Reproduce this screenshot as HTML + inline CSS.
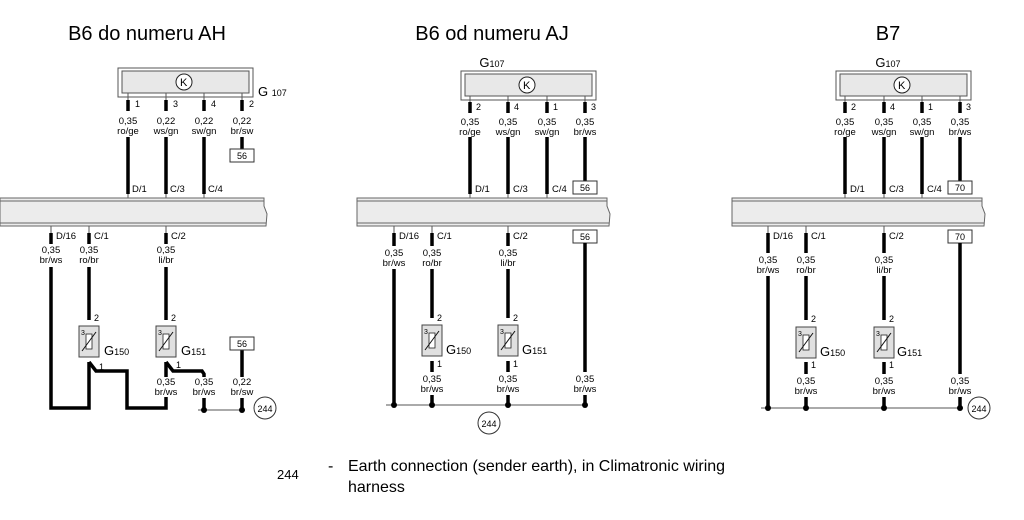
<!DOCTYPE html>
<html><head><meta charset="utf-8"><style>
html,body{margin:0;padding:0;background:#fff;width:1024px;height:520px;overflow:hidden}
svg{display:block;font-family:"Liberation Sans",Arial,sans-serif}
</style></head><body>
<svg width="1024" height="520" viewBox="0 0 1024 520">
<defs>
<g id="sensor">
<rect x="-10" y="0" width="20" height="31" fill="#e0e0e0" stroke="#444" stroke-width="1"/>
<rect x="-3" y="8" width="6" height="15" fill="#fff" stroke="#222" stroke-width="0.8"/>
<line x1="-7" y1="25" x2="7" y2="6" stroke="#111" stroke-width="1"/>
<text x="-8" y="9" font-size="7">3</text>
</g>
<g id="k">
<circle r="8" fill="#fff" stroke="#222" stroke-width="1"/>
<text x="-4" y="4" font-size="11">K</text>
</g>
</defs>
<g fill="#000" font-size="20">
<text x="147" y="40" text-anchor="middle">B6 do numeru AH</text>
<text x="492" y="40" text-anchor="middle">B6 od numeru AJ</text>
<text x="888" y="40" text-anchor="middle">B7</text>
</g>

<!-- ========== PANEL 1 ========== -->
<g>
<rect x="118" y="68" width="135" height="29" fill="#fff" stroke="#555"/>
<rect x="122" y="71" width="127" height="22" fill="#e8e8e8" stroke="#555"/>
<use href="#k" x="184" y="82"/>
<text x="258" y="96" font-size="13">G <tspan font-size="9">107</tspan></text>
<g stroke="#555" stroke-width="1"><line x1="128" y1="93" x2="128" y2="100"/><line x1="166" y1="93" x2="166" y2="100"/><line x1="204" y1="93" x2="204" y2="100"/><line x1="242" y1="93" x2="242" y2="100"/></g>
<g stroke="#000" stroke-width="3.5">
<line x1="128" y1="100" x2="128" y2="111"/><line x1="166" y1="100" x2="166" y2="111"/><line x1="204" y1="100" x2="204" y2="111"/><line x1="242" y1="100" x2="242" y2="111"/>
<line x1="128" y1="137" x2="128" y2="194"/><line x1="166" y1="137" x2="166" y2="194"/><line x1="204" y1="137" x2="204" y2="194"/><line x1="242" y1="137" x2="242" y2="149"/>
</g>
<g font-size="9"><text x="135" y="107">1</text><text x="173" y="107">3</text><text x="211" y="107">4</text><text x="249" y="107">2</text></g>
<g font-size="9.5" text-anchor="middle">
<text x="128" y="124">0,35</text><text x="128" y="134">ro/ge</text>
<text x="166" y="124">0,22</text><text x="166" y="134">ws/gn</text>
<text x="204" y="124">0,22</text><text x="204" y="134">sw/gn</text>
<text x="242" y="124">0,22</text><text x="242" y="134">br/sw</text>
</g>
<rect x="230" y="149" width="24" height="13" fill="#fff" stroke="#333"/><text x="242" y="159" font-size="9" text-anchor="middle">56</text>
<g font-size="9.5"><text x="132" y="192">D/1</text><text x="170" y="192">C/3</text><text x="208" y="192">C/4</text></g>
<g stroke="#555"><line x1="128" y1="194" x2="128" y2="201"/><line x1="166" y1="194" x2="166" y2="201"/><line x1="204" y1="194" x2="204" y2="201"/></g>
<path d="M0 198 H264 L264 206 L267 214 L266 226 H0 Z" fill="#ececec" stroke="#666"/>
<line x1="0" y1="201" x2="264" y2="201" stroke="#666"/><line x1="0" y1="223" x2="266" y2="223" stroke="#666"/>
<g stroke="#555"><line x1="51" y1="226" x2="51" y2="233"/><line x1="89" y1="226" x2="89" y2="233"/><line x1="166" y1="226" x2="166" y2="233"/></g>
<g font-size="9.5"><text x="56" y="239">D/16</text><text x="94" y="239">C/1</text><text x="171" y="239">C/2</text></g>
<g font-size="9.5" text-anchor="middle">
<text x="51" y="253">0,35</text><text x="51" y="263">br/ws</text>
<text x="89" y="253">0,35</text><text x="89" y="263">ro/br</text>
<text x="166" y="253">0,35</text><text x="166" y="263">li/br</text>
</g>
<g stroke="#000" stroke-width="3.5" fill="none">
<line x1="51" y1="233" x2="51" y2="244"/><line x1="89" y1="233" x2="89" y2="244"/><line x1="166" y1="233" x2="166" y2="244"/>
<line x1="89" y1="267" x2="89" y2="320"/><line x1="166" y1="267" x2="166" y2="320"/>
<path d="M51 267 V408 H89 V362"/>
<path d="M89 362 L96 371 H127 V408 H166 V397"/>
<path d="M166 362 V377"/>
<path d="M166 362 L173 371 H202 L204 374 V377"/>
<line x1="204" y1="398" x2="204" y2="410"/>
<line x1="242" y1="350" x2="242" y2="377"/>
<line x1="242" y1="398" x2="242" y2="410"/>
</g>
<g font-size="9"><text x="94" y="321">2</text><text x="171" y="321">2</text><text x="99" y="370">1</text><text x="176" y="368">1</text></g>
<use href="#sensor" x="89" y="326"/><use href="#sensor" x="166" y="326"/>
<text x="104" y="355" font-size="13">G<tspan font-size="9">150</tspan></text>
<text x="181" y="355" font-size="13">G<tspan font-size="9">151</tspan></text>
<rect x="230" y="337" width="24" height="13" fill="#fff" stroke="#333"/><text x="242" y="347" font-size="9" text-anchor="middle">56</text>
<g font-size="9.5" text-anchor="middle">
<text x="166" y="385">0,35</text><text x="166" y="395">br/ws</text>
<text x="204" y="385">0,35</text><text x="204" y="395">br/ws</text>
<text x="242" y="385">0,22</text><text x="242" y="395">br/sw</text>
</g>
<line x1="198" y1="410" x2="242" y2="410" stroke="#555"/>
<circle cx="204" cy="410" r="3" fill="#000"/><circle cx="242" cy="410" r="3" fill="#000"/>
<circle cx="265" cy="408" r="11" fill="#fff" stroke="#333"/><text x="265" y="412" font-size="9" text-anchor="middle">244</text>
</g>

<!-- ========== PANEL 2 ========== -->
<g>
<text x="492" y="67" font-size="13" text-anchor="middle">G<tspan font-size="9">107</tspan></text>
<rect x="461" y="71" width="135" height="29" fill="#fff" stroke="#555"/>
<rect x="465" y="74" width="127" height="22" fill="#e8e8e8" stroke="#555"/>
<use href="#k" x="527" y="85"/>
<g stroke="#555"><line x1="470" y1="96" x2="470" y2="102"/><line x1="508" y1="96" x2="508" y2="102"/><line x1="547" y1="96" x2="547" y2="102"/><line x1="585" y1="96" x2="585" y2="102"/></g>
<g stroke="#000" stroke-width="3.5">
<line x1="470" y1="102" x2="470" y2="113"/><line x1="508" y1="102" x2="508" y2="113"/><line x1="547" y1="102" x2="547" y2="113"/><line x1="585" y1="102" x2="585" y2="113"/>
<line x1="470" y1="137" x2="470" y2="194"/><line x1="508" y1="137" x2="508" y2="194"/><line x1="547" y1="137" x2="547" y2="194"/><line x1="585" y1="137" x2="585" y2="181"/>
</g>
<g font-size="9"><text x="476" y="110">2</text><text x="514" y="110">4</text><text x="553" y="110">1</text><text x="591" y="110">3</text></g>
<g font-size="9.5" text-anchor="middle">
<text x="470" y="125">0,35</text><text x="470" y="135">ro/ge</text>
<text x="508" y="125">0,35</text><text x="508" y="135">ws/gn</text>
<text x="547" y="125">0,35</text><text x="547" y="135">sw/gn</text>
<text x="585" y="125">0,35</text><text x="585" y="135">br/ws</text>
</g>
<rect x="573" y="181" width="24" height="13" fill="#fff" stroke="#333"/><text x="585" y="191" font-size="9" text-anchor="middle">56</text>
<g font-size="9.5"><text x="475" y="192">D/1</text><text x="513" y="192">C/3</text><text x="552" y="192">C/4</text></g>
<g stroke="#555"><line x1="470" y1="194" x2="470" y2="201"/><line x1="508" y1="194" x2="508" y2="201"/><line x1="547" y1="194" x2="547" y2="201"/></g>
<path d="M357 198 H607 L607 206 L610 214 L609 226 H357 Z" fill="#ececec" stroke="#666"/>
<line x1="357" y1="201" x2="607" y2="201" stroke="#666"/><line x1="357" y1="223" x2="609" y2="223" stroke="#666"/>
<g stroke="#555"><line x1="394" y1="226" x2="394" y2="233"/><line x1="432" y1="226" x2="432" y2="233"/><line x1="508" y1="226" x2="508" y2="233"/></g>
<g font-size="9.5"><text x="399" y="239">D/16</text><text x="437" y="239">C/1</text><text x="513" y="239">C/2</text></g>
<rect x="573" y="230" width="24" height="13" fill="#fff" stroke="#333"/><text x="585" y="240" font-size="9" text-anchor="middle">56</text>
<g font-size="9.5" text-anchor="middle">
<text x="394" y="256">0,35</text><text x="394" y="266">br/ws</text>
<text x="432" y="256">0,35</text><text x="432" y="266">ro/br</text>
<text x="508" y="256">0,35</text><text x="508" y="266">li/br</text>
<text x="432" y="382">0,35</text><text x="432" y="392">br/ws</text>
<text x="508" y="382">0,35</text><text x="508" y="392">br/ws</text>
<text x="585" y="382">0,35</text><text x="585" y="392">br/ws</text>
</g>
<g stroke="#000" stroke-width="3.5">
<line x1="394" y1="233" x2="394" y2="246"/><line x1="432" y1="233" x2="432" y2="246"/><line x1="508" y1="233" x2="508" y2="246"/>
<line x1="394" y1="269" x2="394" y2="405"/>
<line x1="432" y1="269" x2="432" y2="318"/><line x1="508" y1="269" x2="508" y2="318"/>
<line x1="432" y1="361" x2="432" y2="372"/><line x1="508" y1="361" x2="508" y2="372"/>
<line x1="432" y1="395" x2="432" y2="405"/><line x1="508" y1="395" x2="508" y2="405"/>
<line x1="585" y1="243" x2="585" y2="372"/><line x1="585" y1="395" x2="585" y2="405"/>
</g>
<g font-size="9"><text x="437" y="321">2</text><text x="513" y="321">2</text><text x="437" y="367">1</text><text x="513" y="367">1</text></g>
<use href="#sensor" x="432" y="325"/><use href="#sensor" x="508" y="325"/>
<text x="446" y="354" font-size="13">G<tspan font-size="9">150</tspan></text>
<text x="522" y="354" font-size="13">G<tspan font-size="9">151</tspan></text>
<line x1="386" y1="405" x2="585" y2="405" stroke="#555"/>
<g fill="#000"><circle cx="394" cy="405" r="3"/><circle cx="432" cy="405" r="3"/><circle cx="508" cy="405" r="3"/><circle cx="585" cy="405" r="3"/></g>
<circle cx="489" cy="423" r="11" fill="#fff" stroke="#333"/><text x="489" y="427" font-size="9" text-anchor="middle">244</text>
</g>

<!-- ========== PANEL 3 ========== -->
<g>
<text x="888" y="67" font-size="13" text-anchor="middle">G<tspan font-size="9">107</tspan></text>
<rect x="836" y="71" width="135" height="29" fill="#fff" stroke="#555"/>
<rect x="840" y="74" width="127" height="22" fill="#e8e8e8" stroke="#555"/>
<use href="#k" x="902" y="85"/>
<g stroke="#555"><line x1="845" y1="96" x2="845" y2="102"/><line x1="884" y1="96" x2="884" y2="102"/><line x1="922" y1="96" x2="922" y2="102"/><line x1="960" y1="96" x2="960" y2="102"/></g>
<g stroke="#000" stroke-width="3.5">
<line x1="845" y1="102" x2="845" y2="113"/><line x1="884" y1="102" x2="884" y2="113"/><line x1="922" y1="102" x2="922" y2="113"/><line x1="960" y1="102" x2="960" y2="113"/>
<line x1="845" y1="137" x2="845" y2="194"/><line x1="884" y1="137" x2="884" y2="194"/><line x1="922" y1="137" x2="922" y2="194"/><line x1="960" y1="137" x2="960" y2="181"/>
</g>
<g font-size="9"><text x="851" y="110">2</text><text x="890" y="110">4</text><text x="928" y="110">1</text><text x="966" y="110">3</text></g>
<g font-size="9.5" text-anchor="middle">
<text x="845" y="125">0,35</text><text x="845" y="135">ro/ge</text>
<text x="884" y="125">0,35</text><text x="884" y="135">ws/gn</text>
<text x="922" y="125">0,35</text><text x="922" y="135">sw/gn</text>
<text x="960" y="125">0,35</text><text x="960" y="135">br/ws</text>
</g>
<rect x="948" y="181" width="24" height="13" fill="#fff" stroke="#333"/><text x="960" y="191" font-size="9" text-anchor="middle">70</text>
<g font-size="9.5"><text x="850" y="192">D/1</text><text x="889" y="192">C/3</text><text x="927" y="192">C/4</text></g>
<g stroke="#555"><line x1="845" y1="194" x2="845" y2="201"/><line x1="884" y1="194" x2="884" y2="201"/><line x1="922" y1="194" x2="922" y2="201"/></g>
<path d="M732 198 H982 L982 206 L985 214 L984 226 H732 Z" fill="#ececec" stroke="#666"/>
<line x1="732" y1="201" x2="982" y2="201" stroke="#666"/><line x1="732" y1="223" x2="984" y2="223" stroke="#666"/>
<g stroke="#555"><line x1="768" y1="226" x2="768" y2="233"/><line x1="806" y1="226" x2="806" y2="233"/><line x1="884" y1="226" x2="884" y2="233"/></g>
<g font-size="9.5"><text x="773" y="239">D/16</text><text x="811" y="239">C/1</text><text x="889" y="239">C/2</text></g>
<rect x="948" y="230" width="24" height="13" fill="#fff" stroke="#333"/><text x="960" y="240" font-size="9" text-anchor="middle">70</text>
<g font-size="9.5" text-anchor="middle">
<text x="768" y="263">0,35</text><text x="768" y="273">br/ws</text>
<text x="806" y="263">0,35</text><text x="806" y="273">ro/br</text>
<text x="884" y="263">0,35</text><text x="884" y="273">li/br</text>
<text x="806" y="384">0,35</text><text x="806" y="394">br/ws</text>
<text x="884" y="384">0,35</text><text x="884" y="394">br/ws</text>
<text x="960" y="384">0,35</text><text x="960" y="394">br/ws</text>
</g>
<g stroke="#000" stroke-width="3.5">
<line x1="768" y1="233" x2="768" y2="253"/><line x1="806" y1="233" x2="806" y2="253"/><line x1="884" y1="233" x2="884" y2="253"/>
<line x1="768" y1="276" x2="768" y2="408"/>
<line x1="806" y1="276" x2="806" y2="320"/><line x1="884" y1="276" x2="884" y2="320"/>
<line x1="806" y1="362" x2="806" y2="374"/><line x1="884" y1="362" x2="884" y2="374"/>
<line x1="806" y1="397" x2="806" y2="408"/><line x1="884" y1="397" x2="884" y2="408"/>
<line x1="960" y1="243" x2="960" y2="374"/><line x1="960" y1="397" x2="960" y2="408"/>
</g>
<g font-size="9"><text x="811" y="322">2</text><text x="889" y="322">2</text><text x="811" y="368">1</text><text x="889" y="368">1</text></g>
<use href="#sensor" x="806" y="327"/><use href="#sensor" x="884" y="327"/>
<text x="820" y="356" font-size="13">G<tspan font-size="9">150</tspan></text>
<text x="897" y="356" font-size="13">G<tspan font-size="9">151</tspan></text>
<line x1="761" y1="408" x2="960" y2="408" stroke="#555"/>
<g fill="#000"><circle cx="768" cy="408" r="3"/><circle cx="806" cy="408" r="3"/><circle cx="884" cy="408" r="3"/><circle cx="960" cy="408" r="3"/></g>
<circle cx="979" cy="408" r="11" fill="#fff" stroke="#333"/><text x="979" y="412" font-size="9" text-anchor="middle">244</text>
</g>

<!-- Legend -->
<text x="277" y="479" font-size="13">244</text>
<text x="328" y="471" font-size="16">-</text>
<text x="348" y="471" font-size="16">Earth connection (sender earth), in Climatronic wiring</text>
<text x="348" y="492" font-size="16">harness</text>
</svg>
</body></html>
